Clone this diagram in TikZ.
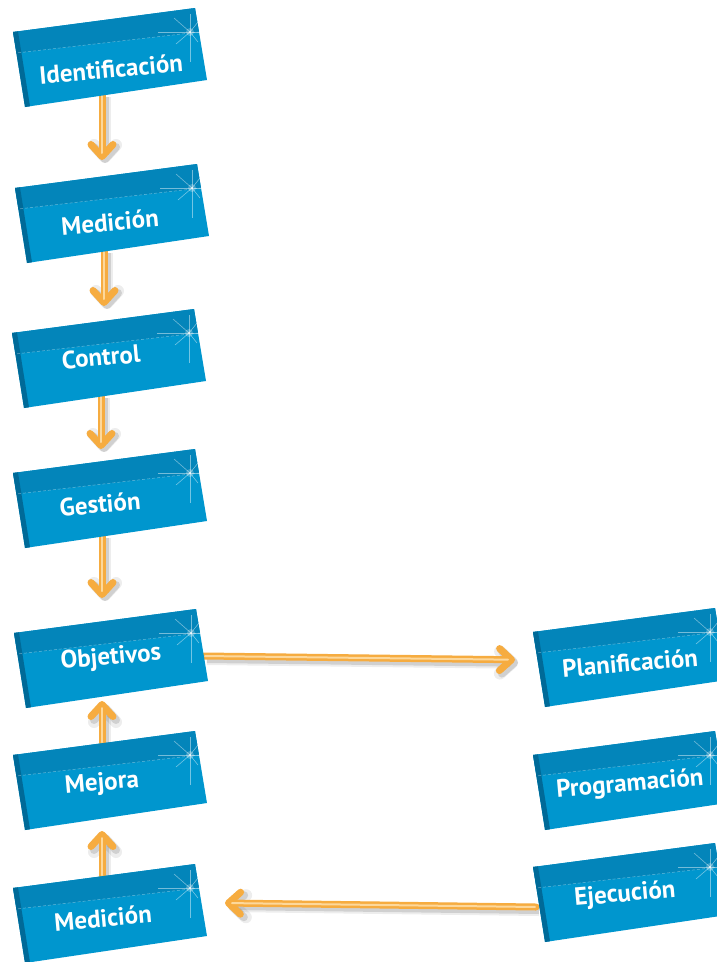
\documentclass[tikz,border=0pt]{standalone}
\usepackage{fontspec}
\setmainfont{PT Sans}
\usetikzlibrary{arrows.meta}
\pgfdeclarelayer{fondo}
\pgfsetlayers{fondo,main}
\definecolor{azul}{RGB}{0,150,206}
\definecolor{azulsup}{RGB}{3,133,186}
\definecolor{azullado}{RGB}{0,106,152}
\definecolor{naranja}{RGB}{246,172,64}
\definecolor{naranjaclaro}{RGB}{253,216,155}
\tikzset{
  texto/.style={text=white, font=\bfseries\fontsize{25}{25}\selectfont, rotate=5, inner sep=0pt},
  rayo/.style={draw=white, line width=.6pt, opacity=.45},
  flecha/.style={line width=7pt, draw=naranja, line cap=round,
    -{Straight Barb[length=12pt,width=22pt,round]}, shorten >=#1,
    preaction={draw=black, opacity=.07, line width=12pt, transform canvas={shift={(3pt,-3pt)}}},
    preaction={draw=black, opacity=.12, line width=8pt, transform canvas={shift={(3pt,-3pt)}}},
    postaction={draw=naranjaclaro, line width=2pt, -, shorten >=#1+7pt, shorten <=1pt}},
  flecha/.default=0pt,
}
% caja{nombre}{x}{y}{texto}{x texto}{y texto}
\newcommand\caja[6]{%
  \begin{scope}[shift={(#2,#3)}]
  \fill[azul] (0,0) -- (182,-24) -- (194,48) -- (12,75) -- cycle;
  \fill[azulsup] (0,0) -- (182,-24) -- (186,0) -- (3.5,21) -- cycle;
  \fill[azullado] (0,0) -- (5,-.6) -- (17,74.3) -- (12,75) -- cycle;
  \draw[white, opacity=.4, densely dashed, line width=.5pt] (5,20.8) -- (186,0);
  \foreach \dx/\dy in {-32/0,10/0,0/-18,0/30,-16/-14,-14/12,8/-10,8/10}
    \draw[rayo] (177,0) -- ++(\dx,\dy);
  \fill[white, opacity=.25] (177,0) circle (4);
  \fill[white, opacity=.6] (177,0) circle (1.3);
  \coordinate (#1-n) at (89,-12);
  \coordinate (#1-s) at (89,62);
  \coordinate (#1-e) at (190,23);
  \coordinate (#1-w) at (3,28);
  \end{scope}
  \node[texto] (#1) at (#5,#6) {#4};
}
\begin{document}
\begin{tikzpicture}[x=1pt,y=-1pt]
\useasboundingbox (0,0) rectangle (717,962);
\caja{ident}{13}{32}{Identificación}{111}{69}
\caja{med}{15}{188}{Medición}{110}{222}
\caja{control}{12}{333}{Control}{101}{357}
\caja{gest}{13}{473}{Gestión}{100}{504}
\caja{obj}{14}{633}{Objetivos}{111}{658}
\caja{mejora}{13}{755}{Mejora}{102}{784}
\caja{medb}{13}{888}{Medición}{103}{918}
\caja{plan}{533}{632}{Planificación}{630}{663}
\caja{prog}{533}{755}{Programación}{630}{785}
\caja{ejec}{533}{867}{Ejecución}{625}{895}
\begin{pgfonlayer}{fondo}
\draw[flecha=16pt] (ident-s) -- (ident-s |- med-n);
\draw[flecha=15pt] (med-s) -- (med-s |- control-n);
\draw[flecha=12pt] (control-s) -- (control-s |- gest-n);
\draw[flecha=23pt] (gest-s) -- (gest-s |- obj-n);
\draw[flecha=6pt] (mejora-n) -- (mejora-n |- obj-s);
\draw[flecha=14pt] (medb-n) -- (medb-n |- mejora-s);
\draw[flecha=21pt] (obj-e) -- (plan-w);
\draw[flecha] ([yshift=-12pt]ejec-w) -- ([xshift=22pt,yshift=8pt]medb-e);
\end{pgfonlayer}
\end{tikzpicture}
\end{document}
